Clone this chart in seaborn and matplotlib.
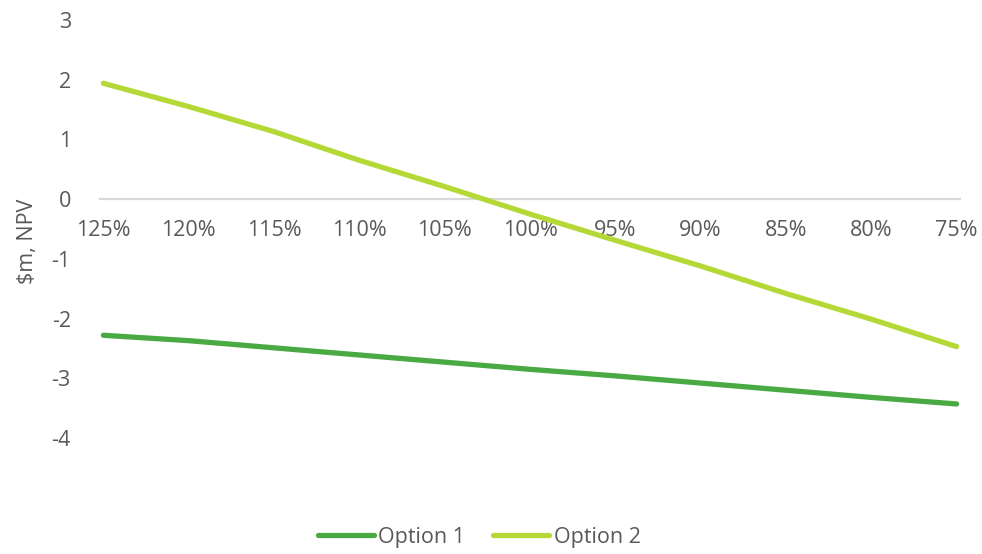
import numpy as np
import pandas as pd
import matplotlib
matplotlib.use('Agg')
import matplotlib.pyplot as plt
import seaborn as sns

# sensitivity of NPV to price level
price_levels = ['125%', '120%', '115%', '110%', '105%', '100%', '95%', '90%', '85%', '80%', '75%']
option_1 = [-2.28, -2.37, -2.49, -2.61, -2.73, -2.85, -2.96, -3.08, -3.20, -3.32, -3.43]
option_2 = [1.94, 1.55, 1.13, 0.65, 0.21, -0.25, -0.69, -1.12, -1.58, -2.01, -2.47]
series_names = ['Option 1', 'Option 2']
series_colors = ['#49AA43', '#B4D936']
y_ticks = [-4, -3, -2, -1, 0, 1, 2, 3]

FONT_SIZE = 15.5


def main():
    df = pd.DataFrame({
        'pos': list(range(len(price_levels))) * 2,
        'value': option_1 + option_2,
        'series': [series_names[0]] * len(option_1) + [series_names[1]] * len(option_2),
    })

    sns.set_style('white')
    plt.rcParams['font.family'] = ['Open Sans', 'DejaVu Sans']
    text_color = '#595959'

    fig = plt.figure(figsize=(9.82, 5.54), dpi=100)
    ax = fig.add_axes([100 / 982, 1 - 438 / 554, 860 / 982, 418 / 554])

    sns.lineplot(data=df, x='pos', y='value', hue='series', palette=series_colors,
                 linewidth=3.8, ax=ax, legend=False, solid_capstyle='round')

    # category axis crosses at zero, as in the spreadsheet chart
    for side in ['top', 'right', 'left']:
        ax.spines[side].set_visible(False)
    ax.spines['bottom'].set_position(('data', 0))
    ax.spines['bottom'].set_color('#D9D9D9')
    ax.spines['bottom'].set_linewidth(1.6)
    ax.spines['bottom'].set_zorder(0)

    ax.set_xlim(-0.04, 10.04)
    ax.set_ylim(-4, 3)
    ax.set_yticks(y_ticks)
    ax.set_yticklabels([str(t) for t in y_ticks])
    ax.set_xticks(range(len(price_levels)))
    ax.set_xticklabels(price_levels)
    ax.tick_params(axis='both', length=0, labelsize=FONT_SIZE, labelcolor=text_color)
    ax.tick_params(axis='x', pad=15)
    ax.tick_params(axis='y', pad=21)

    ax.set_xlabel('')
    ax.set_ylabel('$m, NPV', fontsize=FONT_SIZE, color=text_color)
    ax.yaxis.set_label_coords(-0.072, 0.47)

    handles = [plt.Line2D([0], [0], color=c, lw=3.8, solid_capstyle='round') for c in series_colors]
    fig.legend(handles, series_names, loc='center', bbox_to_anchor=(0.488, 1 - 537 / 554),
               ncol=2, frameon=False, fontsize=FONT_SIZE, labelcolor=text_color,
               handlelength=2.6, handletextpad=0.2, columnspacing=1.3)

    fig.savefig('out.png', dpi=100)
    plt.close(fig)


if __name__ == '__main__':
    main()
